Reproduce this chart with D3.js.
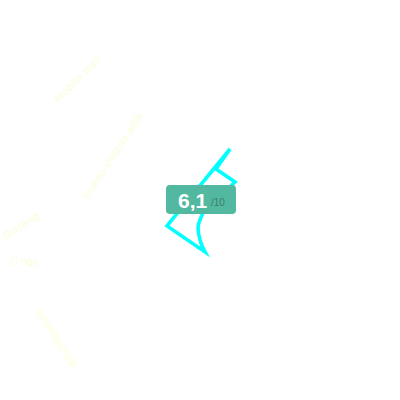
<!DOCTYPE html>
<html>
<head>
<meta charset="utf-8">
<script src="https://cdn.jsdelivr.net/npm/d3@7"></script>
<style>
  html, body { margin: 0; padding: 0; background: #fff; }
  svg { display: block; }
  .label { font-family: "Liberation Sans", Arial, sans-serif; font-size: 11px; }
</style>
</head>
<body>
<div id="chart"></div>
<script>
// series, angle in degrees clockwise from north, value out of 10
const angles = [30.5, 27.3, 62.8, 167, 184, 178.7, 174.5, 231.8, 30.5]
const values = [5.92, 3.49, 3.94, 1.33, 2.71, 4.3, 5.22, 4.2, 5.92]

const score = '6,1'
const scoreMax = '/10'

const labels = ['Mobile trail', 'Puerto Vallarta walk', 'Gorling', 'C ngy', 'Sunset Beach trail']
const labelColors = ['#f8ffdc', '#f8ffdc', '#f6ffd8', '#f8ffdc', '#ffffe0']

const size = 400
const cx = 200
const cy = 200

const svg = d3.select('#chart').append('svg')
  .attr('width', size)
  .attr('height', size)

const rScale = d3.scaleLinear().domain([0, 10]).range([0, 100])
const aScale = d3.scaleLinear().domain([0, 360]).range([0, 2 * Math.PI])

const points = angles.map((a, i) => ({ a, v: values[i] }))

const straight = d3.lineRadial()
  .angle(d => aScale(d.a))
  .radius(d => rScale(d.v))

const curved = d3.lineRadial()
  .angle(d => aScale(d.a))
  .radius(d => rScale(d.v))
  .curve(d3.curveCatmullRom)

// one subpath so the sharp tip at the bottom keeps its miter
const outline = straight(points.slice(0, 4))
  + curved(points.slice(3, 7)).replace(/^M/, 'L')
  + straight(points.slice(6)).replace(/^M/, 'L')

svg.append('g')
  .attr('transform', `translate(${cx},${cy})`)
  .append('path')
  .attr('d', outline)
  .attr('fill', 'none')
  .attr('stroke', '#00ffff')
  .attr('stroke-width', 3.6)
  .attr('stroke-linejoin', 'miter')
  .attr('stroke-miterlimit', 10)

const labelPos = [[80, 82, -45, 60], [116, 158, -57, 101], [23, 229, -33, 41], [24, 265, 0, 28], [53, 339, 58, 68]]

svg.append('g').selectAll('text')
  .data(labels)
  .join('text')
  .attr('class', 'label')
  .attr('text-anchor', 'middle')
  .attr('fill', (d, i) => labelColors[i])
  .attr('textLength', (d, i) => labelPos[i][3])
  .attr('transform', (d, i) => `translate(${labelPos[i][0]},${labelPos[i][1]}) rotate(${labelPos[i][2]})`)
  .text(d => d)

svg.append('rect')
  .attr('x', 166)
  .attr('y', 185)
  .attr('width', 70)
  .attr('height', 29)
  .attr('rx', 4)
  .attr('fill', '#53b8a0')

svg.append('text')
  .attr('x', 178)
  .attr('y', 208)
  .attr('font-family', '"Liberation Sans", Arial, sans-serif')
  .attr('font-size', 21)
  .attr('font-weight', 'bold')
  .attr('fill', '#fff')
  .text(score)

svg.append('text')
  .attr('x', 211)
  .attr('y', 206)
  .attr('font-family', '"Liberation Sans", Arial, sans-serif')
  .attr('font-size', 10)
  .attr('fill', '#3a7d6c')
  .text(scoreMax)
</script>
</body>
</html>
